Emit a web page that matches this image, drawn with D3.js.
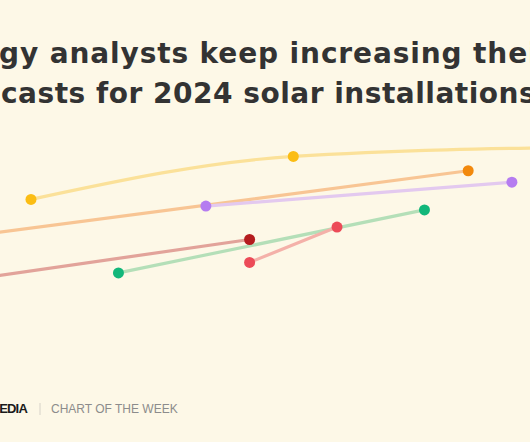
<!DOCTYPE html>
<html>
<head>
<meta charset="utf-8">
<script src="https://cdn.jsdelivr.net/npm/d3@7"></script>
<style>
  html, body { margin: 0; padding: 0; background: #fdf8e7; overflow: hidden; }
  svg { display: block; }
</style>
</head>
<body>
<svg id="chart" width="530" height="442"></svg>
<script>
// ---- data (x = forecast period index, y = forecast of 2024 installations, GW) ----
const titleLines = ["Energy analysts keep increasing their", "forecasts for 2024 solar installations"];
const titleHidden = ["Ener", "fore"];
const titleVisibleFit = ["gy analysts keep increasing the", "casts for 2024 solar installation"];
const gridValues = [300, 400, 500];
const yellowX = [0, 6, 13],  yellowY = [442, 487, 497];
const orangeX = [-2, 10],    orangeY = [400, 472];
const purpleX = [4, 11],     purpleY = [435, 460];
const darkRedX = [-2, 5],    darkRedY = [354, 400];
const greenX = [2, 9],       greenY = [365, 431];
const redX = [5, 7],         redY = [376, 413];
const footerBrand = "CANARY MEDIA";
const footerLabel = "CHART OF THE WEEK";

// ---- styles ----
const dotColors  = {yellow:"#fbbd14", orange:"#f2890d", purple:"#b57cf0", darkred:"#b41c1e", green:"#12b77a", red:"#ec4b58"};
const lineColors = {yellow:"#fbe199", orange:"#f8c594", purple:"#e3c9ef", darkred:"#e2a39a", green:"#b4dfb8", red:"#f4b1a9"};

const seriesData = {
  yellow: yellowX.map((x,i)=>({x, y:yellowY[i]})),
  orange: orangeX.map((x,i)=>({x, y:orangeY[i]})),
  purple: purpleX.map((x,i)=>({x, y:purpleY[i]})),
  darkred: darkRedX.map((x,i)=>({x, y:darkRedY[i]})),
  green: greenX.map((x,i)=>({x, y:greenY[i]})),
  red: redX.map((x,i)=>({x, y:redY[i]}))
};

const svg = d3.select("#chart");
const W = 530;

const x = d3.scaleLinear().domain([0, 11]).range([31, 511.9]);
const y = d3.scaleLinear().domain([300, 500]).range([335, 144]);

// background
svg.append("rect").attr("width", W).attr("height", 442).attr("fill", "#fdf8e7");

// title
const title = svg.append("g").attr("font-family", "'DejaVu Sans', sans-serif")
  .attr("font-weight", 700).attr("font-size", 28).attr("fill", "#333333");
const baselines = [63, 103];
const visibleStart = [-1, 1];
const visibleEnd = [528, 519];
titleLines.forEach((t, i) => {
  const p1 = title.append("text").text(titleVisibleFit[i]);
  const wv = p1.node().getComputedTextLength();
  p1.remove();
  const n = titleVisibleFit[i].length;
  const ls = (visibleEnd[i] - visibleStart[i] - wv) / n;
  const p2 = title.append("text").text(titleHidden[i]);
  const wh = p2.node().getComputedTextLength();
  p2.remove();
  title.append("text")
    .attr("x", visibleStart[i] - wh - titleHidden[i].length * ls)
    .attr("y", baselines[i])
    .attr("letter-spacing", ls)
    .text(t);
});

// gridlines
const yAxis = d3.axisLeft(y).tickValues(gridValues).tickSize(-W * 2).tickFormat("");
const ga = svg.append("g").attr("transform", `translate(${W + 10},0)`).call(yAxis);
ga.select(".domain").remove();
ga.selectAll(".tick line").attr("stroke", "#ede5da").attr("stroke-width", 1.3);

// lines
const line = d3.line().x(d => x(d.x)).y(d => y(d.y)).curve(d3.curveMonotoneX);
const lineOrder = ["yellow", "orange", "purple", "darkred", "green", "red"];
svg.append("g").selectAll("path").data(lineOrder).join("path")
  .attr("d", k => line(seriesData[k]))
  .attr("fill", "none")
  .attr("stroke", k => lineColors[k])
  .attr("stroke-width", 3.2)
  .attr("stroke-linecap", "round");

// dots
const dots = lineOrder.flatMap(k => seriesData[k].map(p => ({k, ...p})));
svg.append("g").selectAll("circle").data(dots).join("circle")
  .attr("cx", d => x(d.x)).attr("cy", d => y(d.y)).attr("r", 5.5)
  .attr("fill", d => dotColors[d.k]);

// footer
const brand = svg.append("text").attr("y", 413)
  .attr("font-family", "'Liberation Sans', Arial, sans-serif").attr("font-weight", 700)
  .attr("font-size", 13).attr("letter-spacing", -0.8).attr("fill", "#1a1a1a").text(footerBrand);
const bw = brand.node().getComputedTextLength();
brand.attr("x", 27 - bw);
svg.append("line").attr("x1", 40).attr("x2", 40).attr("y1", 403).attr("y2", 415)
  .attr("stroke", "#d6d2c8").attr("stroke-width", 1);
svg.append("text").attr("x", 51).attr("y", 413)
  .attr("font-family", "'Liberation Sans', Arial, sans-serif")
  .attr("font-size", 12).attr("fill", "#8c8c8c").text(footerLabel);
</script>
</body>
</html>
